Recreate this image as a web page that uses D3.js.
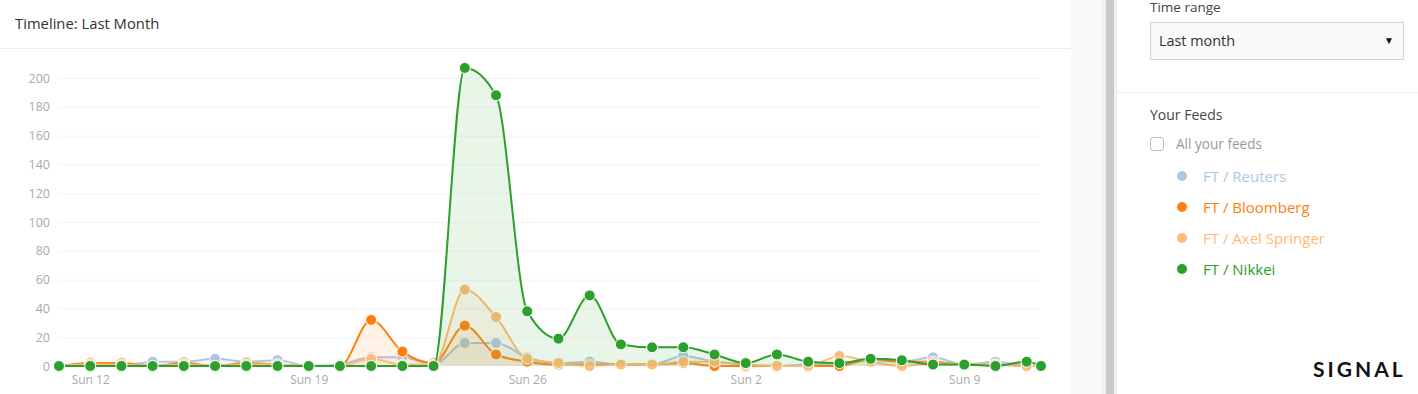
<!DOCTYPE html>
<html>
<head>
<meta charset="utf-8">
<script src="https://cdn.jsdelivr.net/npm/d3@7"></script>
<style>
  body { margin: 0; width: 1418px; height: 394px; overflow: hidden; background: #fff; font-family: "Open Sans", sans-serif; }
  #wrap { position: relative; width: 1418px; height: 394px; }
  .abs { position: absolute; white-space: nowrap; }
</style>
</head>
<body>
<div id="wrap"></div>
<script>
// one point per day, last one is the partial current day
var dates = [
  "2017-03-11", "2017-03-12", "2017-03-13", "2017-03-14", "2017-03-15", "2017-03-16", "2017-03-17",
  "2017-03-18", "2017-03-19", "2017-03-20", "2017-03-21", "2017-03-22", "2017-03-23", "2017-03-24",
  "2017-03-25", "2017-03-26", "2017-03-27", "2017-03-28", "2017-03-29", "2017-03-30", "2017-03-31",
  "2017-04-01", "2017-04-02", "2017-04-03", "2017-04-04", "2017-04-05", "2017-04-06", "2017-04-07",
  "2017-04-08", "2017-04-09", "2017-04-10", "2017-04-11", "2017-04-11T11:00Z"
];
var feeds = ["FT / Reuters", "FT / Bloomberg", "FT / Axel Springer", "FT / Nikkei"];
var colors = ["#aec7e8", "#ff7f0e", "#ffbb78", "#2ca02c"];

var reuters =  [0,0,0,3,3,5,3,4,0,1,6,6,1,16,16,6,2,3,1,1,7,3,1,0,1,1,4,3,6,1,3,0,0];
var bloomberg = [0,2,2,0,2,0,2,1,0,0,32,10,2,28,8,3,1,1,1,1,2,0,0,0,0,0,5,3,3,1,1,0,0];
var axel =     [0,1,1,0,1,0,1,1,0,0,5,1,1,53,34,5,2,0,1,1,3,3,1,0,0,7,3,0,2,1,1,0,0];
var nikkei =   [0,0,0,0,0,0,0,0,0,0,0,0,0,207,188,38,19,49,15,13,13,8,2,8,3,2,5,4,1,1,0,3,0];

var yTicks = [0, 20, 40, 60, 80, 100, 120, 140, 160, 180, 200];

var series = [reuters, bloomberg, axel, nikkei];
var parse = function(s) { return s.length > 10 ? d3.isoParse(s) : d3.utcParse("%Y-%m-%d")(s); };
var days = dates.map(parse);

var wrap = d3.select("#wrap");

// ---- page chrome ------------------------------------------------
wrap.append("div").attr("class", "abs").style("left", "1071px").style("top", "0px")
  .style("width", "31px").style("height", "394px").style("background", "#f7f9fa");
wrap.append("div").attr("class", "abs").style("left", "1102px").style("top", "0px")
  .style("width", "15px").style("height", "394px").style("background", "#f0f0f0");
wrap.append("div").attr("class", "abs").style("left", "1106px").style("top", "0px")
  .style("width", "8px").style("height", "394px").style("background", "#c9c9c9");

wrap.append("div").attr("class", "abs").style("left", "15px").style("top", "13px")
  .style("font-size", "14.8px").style("color", "#333").text("Timeline: Last Month");
wrap.append("div").attr("class", "abs").style("left", "0px").style("top", "48px")
  .style("width", "1071px").style("height", "1px").style("background", "#ececec");

// ---- chart ------------------------------------------------------
var svg = wrap.append("svg").attr("class", "abs").style("left", "0px").style("top", "0px")
  .attr("width", 1071).attr("height", 394);

var x = d3.scaleUtc().domain([days[0], days[days.length - 1]]).range([59, 1041]);
var y = d3.scaleLinear().domain([0, 200]).range([366, 78]);

svg.append("g").selectAll("line").data(yTicks.slice(1)).join("line")
  .attr("x1", 58).attr("x2", 1041)
  .attr("y1", function(d) { return y(d) + 0.5; }).attr("y2", function(d) { return y(d) + 0.5; })
  .attr("stroke", "#f4f4f4");

var yAxis = svg.append("g").attr("transform", "translate(50,0)")
  .call(d3.axisLeft(y).tickValues(yTicks).tickSize(0).tickPadding(0));
yAxis.select(".domain").remove();
yAxis.selectAll("text").attr("fill", "#aaa").style("font-size", "12.5px").style("font-family", "Open Sans");

var xAxis = svg.append("g").attr("transform", "translate(0,373)")
  .call(d3.axisBottom(x).ticks(d3.utcSunday.every(1)).tickFormat(d3.utcFormat("%a %-d")).tickSize(0).tickPadding(2));
xAxis.select(".domain").remove();
xAxis.selectAll("text").attr("fill", "#aaa").style("font-size", "12px").style("font-family", "Open Sans");

var area = d3.area().curve(d3.curveMonotoneX)
  .x(function(d, i) { return x(days[i]); }).y0(y(0)).y1(function(d) { return y(d); });
var line = d3.line().curve(d3.curveMonotoneX)
  .x(function(d, i) { return x(days[i]); }).y(function(d) { return y(d); });

series.forEach(function(vals, k) {
  var g = svg.append("g");
  g.append("path").attr("d", area(vals)).attr("fill", colors[k]).attr("fill-opacity", 0.1);
  g.append("path").attr("d", line(vals)).attr("fill", "none").attr("stroke", colors[k]).attr("stroke-width", 2);
  g.selectAll("circle").data(vals).join("circle")
    .attr("cx", function(d, i) { return x(days[i]); })
    .attr("cy", function(d) { return y(d); })
    .attr("r", 5.5).attr("fill", colors[k]).attr("stroke", "#fff").attr("stroke-width", 1);
});

// ---- right panel ------------------------------------------------
wrap.append("div").attr("class", "abs").style("left", "1150px").style("top", "0px")
  .style("font-size", "13.5px").style("line-height", "14px").style("color", "#444").text("Time range");
var sel = wrap.append("div").attr("class", "abs").style("left", "1150px").style("top", "22px")
  .style("width", "252px").style("height", "36px").style("border", "1px solid #d4d4d4")
  .style("background", "#f9f9f9");
sel.append("div").attr("class", "abs").style("left", "8px").style("top", "8px")
  .style("font-size", "14.4px").style("color", "#333").text("Last month");
sel.append("div").attr("class", "abs").style("left", "233px").style("top", "10px")
  .style("font-size", "10px").style("color", "#111").text("▼");

wrap.append("div").attr("class", "abs").style("left", "1117px").style("top", "92px")
  .style("width", "301px").style("height", "1px").style("background", "#ececec");
wrap.append("div").attr("class", "abs").style("left", "1150px").style("top", "105px")
  .style("font-size", "14px").style("color", "#444").text("Your Feeds");

wrap.append("div").attr("class", "abs").style("left", "1150px").style("top", "137px")
  .style("width", "12px").style("height", "12px").style("border", "1px solid #bbb")
  .style("border-radius", "3px").style("background", "#fff");
wrap.append("div").attr("class", "abs").style("left", "1176px").style("top", "134px")
  .style("font-size", "13.6px").style("color", "#999").text("All your feeds");

var leg = wrap.append("svg").attr("class", "abs").style("left", "1160px").style("top", "160px")
  .attr("width", 250).attr("height", 130);
var item = leg.selectAll("g").data(feeds).join("g")
  .attr("transform", function(d, i) { return "translate(0," + (16 + i * 31) + ")"; });
item.append("circle").attr("cx", 22).attr("cy", 0).attr("r", 5)
  .attr("fill", function(d, i) { return colors[i]; });
item.append("text").attr("x", 43).attr("y", 5.5).text(function(d) { return d; })
  .attr("fill", function(d, i) { return colors[i]; })
  .style("font-size", "15px").style("font-family", "Open Sans");

wrap.append("div").attr("class", "abs").style("left", "1313px").style("top", "356px")
  .style("font-size", "21px").style("font-weight", "700").style("letter-spacing", "3px")
  .style("color", "#111").style("font-family", "Lato").text("SIGNAL");
</script>
</body>
</html>
